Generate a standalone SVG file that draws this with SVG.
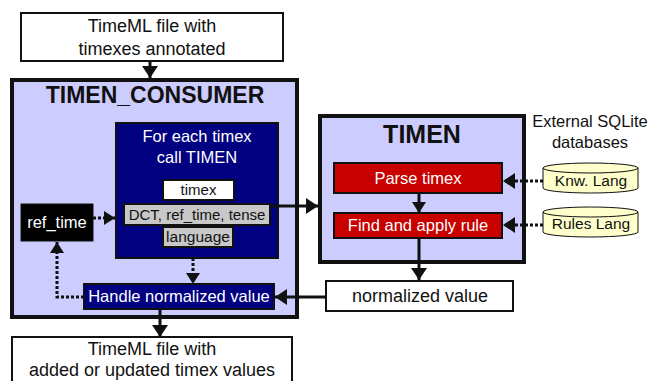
<svg xmlns="http://www.w3.org/2000/svg" width="649" height="381" viewBox="0 0 649 381">
<style>
text{font-family:"Liberation Sans",Arial,sans-serif;text-anchor:middle;fill:#111}
.w{fill:#fff}
.outer{fill:#ccccff;stroke:#111;stroke-width:4}
.plain{fill:#fff;stroke:#111;stroke-width:2}
.navy{fill:#000080;stroke:#111;stroke-width:2}
.red{fill:#c80000;stroke:#111;stroke-width:2}
.gray{fill:#c8c8c8;stroke:#111;stroke-width:2}
.db{fill:#ffffcc;stroke:#111;stroke-width:1}
.solid{fill:none;stroke:#111;stroke-width:3}
.dot{fill:none;stroke:#111;stroke-width:3;stroke-dasharray:3,2}
</style>
<defs>
<marker id="ah" markerUnits="userSpaceOnUse" markerWidth="14" markerHeight="16" refX="12" refY="8" orient="auto">
<path d="M0,0 L12,8 L0,16 z" fill="#111"/>
</marker>
<marker id="ahs" markerUnits="userSpaceOnUse" markerWidth="12" markerHeight="14" refX="11" refY="7" orient="auto">
<path d="M0,0 L11,7 L0,14 z" fill="#111"/>
</marker>
</defs>

<g id="input">
<rect class="plain" x="21" y="13" width="262" height="48"/>
<text x="152" y="32" font-size="18">TimeML file with</text>
<text x="152" y="55" font-size="18">timexes annotated</text>
</g>

<g id="timen_consumer">
<rect class="outer" x="12" y="80" width="285" height="237"/>
<text x="155" y="103" font-size="23" font-weight="bold">TIMEN_CONSUMER</text>
</g>

<g id="for_each">
<rect class="navy" x="116" y="123" width="162" height="135"/>
<text class="w" x="197" y="142" font-size="16.5">For each timex</text>
<text class="w" x="197" y="163" font-size="16.5">call TIMEN</text>
</g>

<g id="timex">
<rect class="plain" x="163" y="180" width="71" height="20"/>
<text x="198.5" y="195" font-size="15">timex</text>
</g>

<g id="dct">
<rect class="gray" x="124" y="204" width="146" height="21"/>
<text x="197" y="220" font-size="15">DCT, ref_time, tense</text>
</g>

<g id="language">
<rect class="gray" x="163" y="227" width="70" height="20"/>
<text x="198" y="242" font-size="15.5">language</text>
</g>

<g id="ref_time">
<rect x="21" y="204" width="72" height="37" fill="#000" stroke="#111" stroke-width="1"/>
<text class="w" x="57" y="228" font-size="16.5">ref_time</text>
</g>

<g id="handle">
<rect class="navy" x="84" y="284" width="190" height="25"/>
<text class="w" x="179" y="302" font-size="16.5">Handle normalized value</text>
</g>

<g id="output">
<rect class="plain" x="12" y="337" width="280" height="50"/>
<text x="152" y="355" font-size="18">TimeML file with</text>
<text x="152" y="376" font-size="18">added or updated timex values</text>
</g>

<g id="timen">
<rect class="outer" x="320" y="116" width="204" height="146"/>
<text x="422" y="143" font-size="25" font-weight="bold">TIMEN</text>
</g>

<g id="parse">
<rect class="red" x="334" y="163" width="168" height="30"/>
<text class="w" x="418" y="184" font-size="16.5">Parse timex</text>
</g>

<g id="find">
<rect class="red" x="334" y="213" width="168" height="25"/>
<text class="w" x="418" y="231" font-size="16.5">Find and apply rule</text>
</g>

<g id="normalized">
<rect class="plain" x="326" y="281" width="187" height="30"/>
<text x="420" y="302" font-size="18">normalized value</text>
</g>

<g id="external_label">
<text x="590" y="127" font-size="16.5">External SQLite</text>
<text x="590" y="148" font-size="16.5">databases</text>
</g>

<g id="knw_lang">
<path class="db" d="M543,168 A47.5,5 0 0 1 638,168 V188 A47.5,5 0 0 1 543,188 Z"/>
<path class="db" d="M543,168 A47.5,5 0 0 0 638,168" fill="none"/>
<text x="591" y="186" font-size="15.5">Knw. Lang</text>
</g>

<g id="rules_lang">
<path class="db" d="M543,212 A47.5,5 0 0 1 638,212 V232 A47.5,5 0 0 1 543,232 Z"/>
<path class="db" d="M543,212 A47.5,5 0 0 0 638,212" fill="none"/>
<text x="591" y="229" font-size="15.5">Rules Lang</text>
</g>

<g id="connectors">
<path class="solid" d="M150,61 V78" marker-end="url(#ah)"/>
<path class="solid" d="M270,206 H318" marker-end="url(#ah)"/>
<path class="solid" d="M419,193 V213" marker-end="url(#ahs)"/>
<path class="solid" d="M419,238 V280" marker-end="url(#ah)"/>
<path class="solid" d="M326,297 H275" marker-end="url(#ah)"/>
<path class="solid" d="M160,309 V337" marker-end="url(#ah)"/>
<path class="dot" d="M93,218 H115" marker-end="url(#ahs)"/>
<path class="dot" d="M193,258 V284" marker-end="url(#ahs)"/>
<path class="dot" d="M84,297 H57 V242" marker-end="url(#ahs)"/>
<path class="dot" d="M543,181 H503" marker-end="url(#ah)"/>
<path class="dot" d="M543,225 H503" marker-end="url(#ah)"/>
</g>
</svg>
